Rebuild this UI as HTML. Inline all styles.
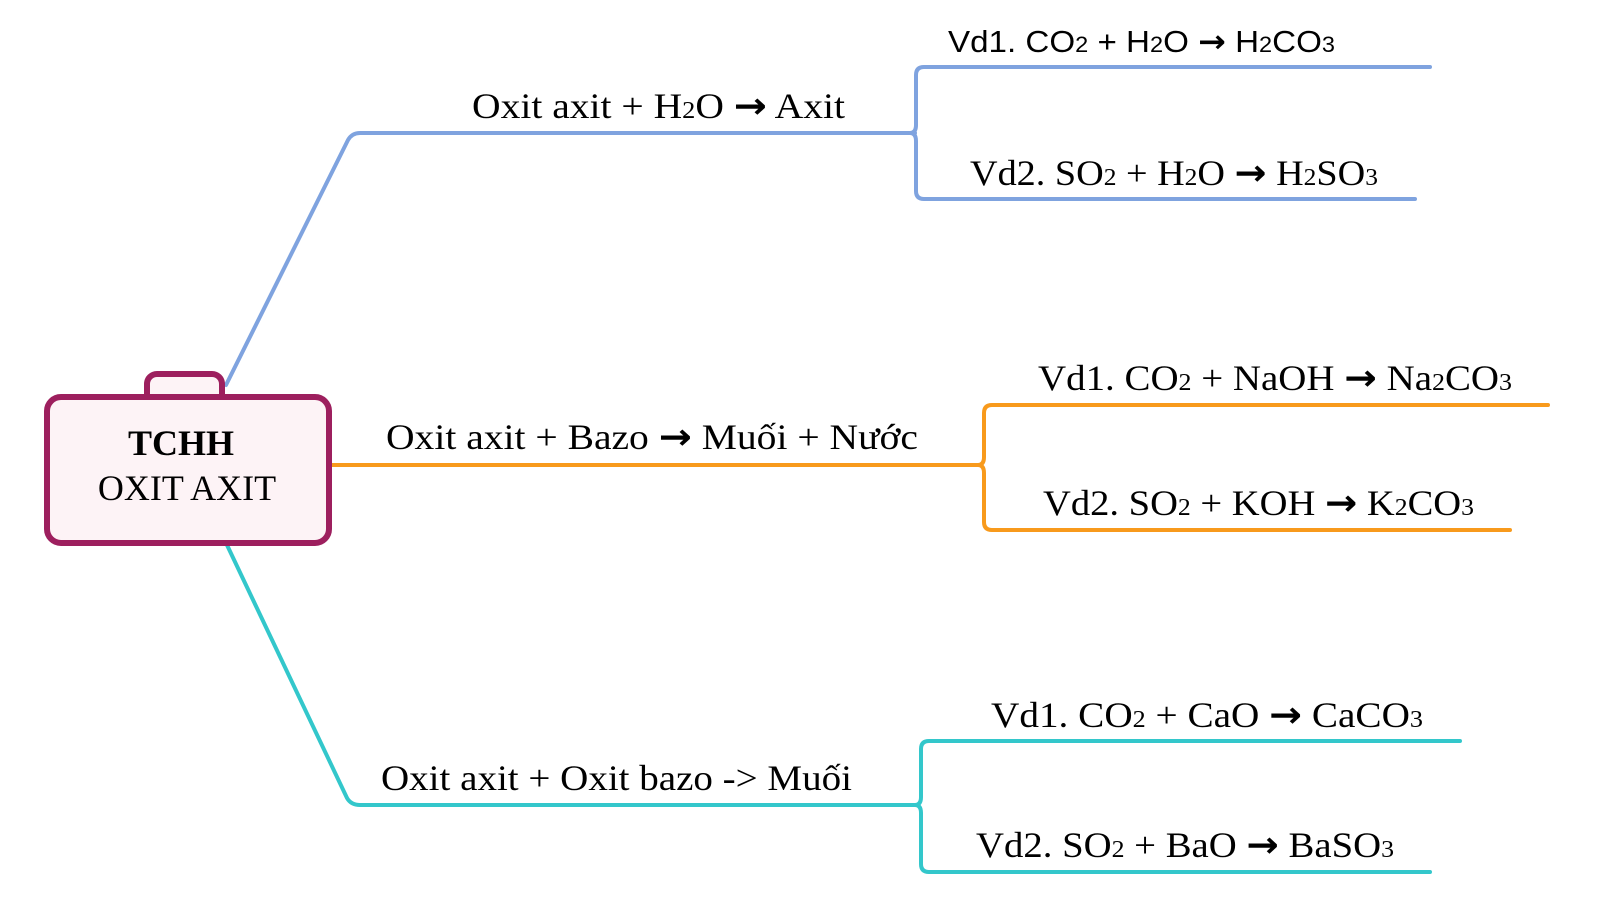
<!DOCTYPE html>
<html><head><meta charset="utf-8"><style>
html,body{margin:0;padding:0;background:#fff;width:1600px;height:918px;overflow:hidden}
svg text{font-family:"Liberation Serif",serif;fill:#000}
.s{font-family:"Liberation Sans",sans-serif}
</style></head><body>
<svg width="1600" height="918" viewBox="0 0 1600 918" xmlns="http://www.w3.org/2000/svg">
<g fill="none" stroke-width="4" stroke-linecap="round" stroke-linejoin="round">
<!-- blue -->
<path stroke="#7fa3df" d="M226 385 L348 140 Q352 133 360 133 L915 133"/>
<path stroke="#7fa3df" d="M1430 67 L924 67 Q916 67 916 75 L916 125 Q916 133 910 133 Q916 133 916 141 L916 191 Q916 199 924 199 L1415 199"/>
<!-- orange -->
<path stroke="#f89a1c" d="M330 465 L980 465"/>
<path stroke="#f89a1c" d="M1548 405 L992 405 Q984 405 984 413 L984 457 Q984 465 978 465 Q984 465 984 473 L984 522 Q984 530 992 530 L1510 530"/>
<!-- teal -->
<path stroke="#33c7cb" d="M227 545 L347 798 Q351 805 360 805 L918 805"/>
<path stroke="#33c7cb" d="M1460 741 L929 741 Q921 741 921 749 L921 797 Q921 805 915 805 Q921 805 921 813 L921 864 Q921 872 929 872 L1430 872"/>
</g>
<!-- central box -->
<rect x="147" y="374" width="75" height="40" rx="10" fill="#fdf3f6" stroke="#9d1f5e" stroke-width="6"/>
<rect x="47" y="397" width="282" height="146" rx="14" fill="#fdf3f6" stroke="#9d1f5e" stroke-width="6"/>
<text x="181" y="455" font-size="36" font-weight="bold" text-anchor="middle">TCHH</text>
<text x="187" y="500" font-size="36" text-anchor="middle">OXIT AXIT</text>

<text x="472" y="118" font-size="36" textLength="373" lengthAdjust="spacingAndGlyphs">Oxit axit + H<tspan font-size="24">2</tspan>O <tspan font-family="DejaVu Sans" font-weight="bold">→</tspan> Axit</text>
<text x="386" y="449" font-size="36" textLength="532" lengthAdjust="spacingAndGlyphs">Oxit axit + Bazo <tspan font-family="DejaVu Sans" font-weight="bold">→</tspan> Muối + Nước</text>
<text x="381" y="790" font-size="36" textLength="471" lengthAdjust="spacingAndGlyphs">Oxit axit + Oxit bazo -&gt; Muối</text>

<text class="s" x="948" y="52" font-size="31" textLength="387" lengthAdjust="spacingAndGlyphs">Vd1. CO<tspan font-size="22">2</tspan> + H<tspan font-size="22">2</tspan>O <tspan font-family="DejaVu Sans" font-weight="bold">→</tspan> H<tspan font-size="22">2</tspan>CO<tspan font-size="22">3</tspan></text>
<text x="970" y="185" font-size="36" textLength="408" lengthAdjust="spacingAndGlyphs">Vd2. SO<tspan font-size="24">2</tspan> + H<tspan font-size="24">2</tspan>O <tspan font-family="DejaVu Sans" font-weight="bold">→</tspan> H<tspan font-size="24">2</tspan>SO<tspan font-size="24">3</tspan></text>

<text x="1038" y="390" font-size="36" textLength="474" lengthAdjust="spacingAndGlyphs">Vd1. CO<tspan font-size="24">2</tspan> + NaOH <tspan font-family="DejaVu Sans" font-weight="bold">→</tspan> Na<tspan font-size="24">2</tspan>CO<tspan font-size="24">3</tspan></text>
<text x="1043" y="515" font-size="36" textLength="431" lengthAdjust="spacingAndGlyphs">Vd2. SO<tspan font-size="24">2</tspan> + KOH <tspan font-family="DejaVu Sans" font-weight="bold">→</tspan> K<tspan font-size="24">2</tspan>CO<tspan font-size="24">3</tspan></text>

<text x="991" y="727" font-size="36" textLength="432" lengthAdjust="spacingAndGlyphs">Vd1. CO<tspan font-size="24">2</tspan> + CaO <tspan font-family="DejaVu Sans" font-weight="bold">→</tspan> CaCO<tspan font-size="24">3</tspan></text>
<text x="976" y="857" font-size="36" textLength="418" lengthAdjust="spacingAndGlyphs">Vd2. SO<tspan font-size="24">2</tspan> + BaO <tspan font-family="DejaVu Sans" font-weight="bold">→</tspan> BaSO<tspan font-size="24">3</tspan></text>
</svg>
</body></html>
